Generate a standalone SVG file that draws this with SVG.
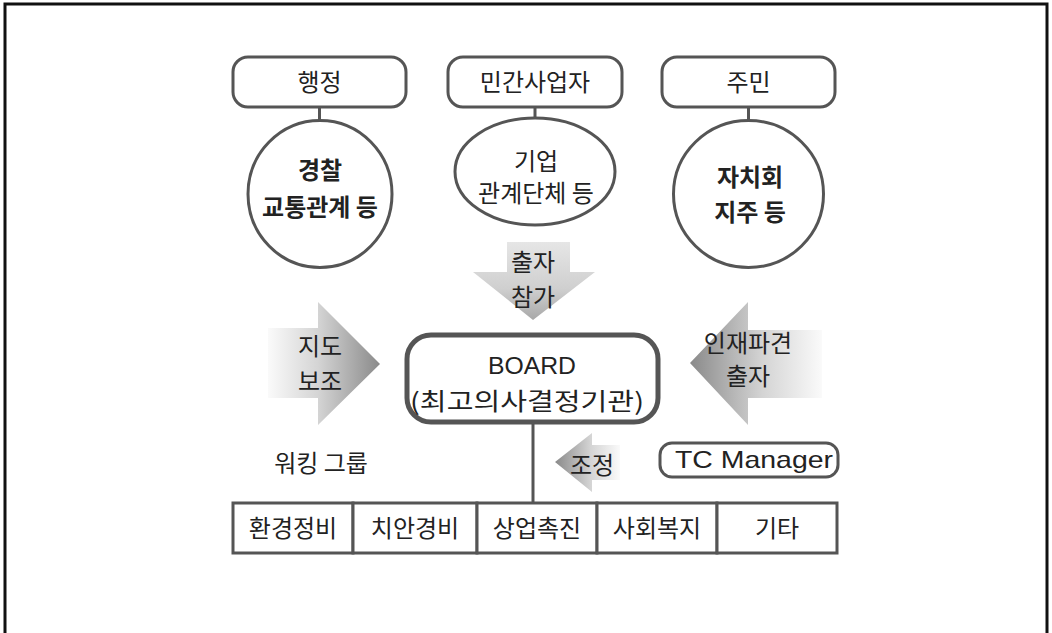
<svg xmlns="http://www.w3.org/2000/svg" width="1052" height="633" viewBox="0 0 1052 633">
<defs>
<style>
.box{fill:#fff;stroke:#555;stroke-width:3}
.board{fill:#fff;stroke:#555;stroke-width:5}
.cell{fill:#fff;stroke:#555;stroke-width:3}
.conn{stroke:#555;stroke-width:3;fill:none}
.t{font-family:"Noto Sans CJK KR","Liberation Sans",sans-serif;font-size:24px;fill:#222;text-anchor:middle}
.b{font-weight:bold}
.lat{font-family:"Liberation Sans","Noto Sans CJK KR",sans-serif;font-size:24px;fill:#222;text-anchor:middle}
</style>
<linearGradient id="gR" x1="0" y1="0" x2="1" y2="0">
<stop offset="0" stop-color="#fafafa"/><stop offset="0.45" stop-color="#d4d4d4"/><stop offset="1" stop-color="#8a8a8a"/>
</linearGradient>
<linearGradient id="gL" x1="1" y1="0" x2="0" y2="0">
<stop offset="0" stop-color="#fafafa"/><stop offset="0.45" stop-color="#d4d4d4"/><stop offset="1" stop-color="#8a8a8a"/>
</linearGradient>
<linearGradient id="gD" x1="0" y1="0" x2="0" y2="1">
<stop offset="0" stop-color="#e6e6e6"/><stop offset="0.6" stop-color="#cfcfcf"/><stop offset="1" stop-color="#a8a8a8"/>
</linearGradient>
</defs>
<rect x="0" y="0" width="1052" height="633" fill="#fff"/>
<rect x="5" y="4" width="1042" height="660" fill="none" stroke="#111" stroke-width="3"/>

<g id="connectors">
<line class="conn" x1="319.5" y1="107" x2="319.5" y2="121"/>
<line class="conn" x1="535" y1="107" x2="535" y2="119"/>
<line class="conn" x1="748.5" y1="107" x2="748.5" y2="121"/>
<line class="conn" x1="533" y1="422" x2="533" y2="503"/>
</g>

<g id="arrow-chulja">
<polygon points="507,242 570,242 570,272 595,272 533,320 473,272 507,272" fill="url(#gD)"/>
<text class="t" x="533" y="271">출자</text>
<text class="t" x="533" y="306">참가</text>
</g>
<g id="arrow-jido">
<polygon points="268,328 318,328 318,302 380,364 318,425 318,398 268,398" fill="url(#gR)"/>
<text class="t" x="320" y="355">지도</text>
<text class="t" x="320" y="390">보조</text>
</g>
<g id="arrow-injae">
<polygon points="822,330 748,330 748,302 690,363 748,425 748,398 822,398" fill="url(#gL)"/>
<text class="t" x="748" y="352">인재파견</text>
<text class="t" x="748" y="385">출자</text>
</g>
<g id="arrow-jojeong">
<polygon points="620,445 592,445 592,433 555,462 592,492 592,480 620,480" fill="url(#gL)"/>
<text class="t" x="592" y="474">조정</text>
</g>

<g id="node-haengjeong">
<rect class="box" x="233" y="57" width="173" height="50" rx="15"/>
<text class="t" x="319.5" y="91">행정</text>
</g>
<g id="node-mingan">
<rect class="box" x="448" y="57" width="174" height="50" rx="15"/>
<text class="t" x="535" y="91">민간사업자</text>
</g>
<g id="node-jumin">
<rect class="box" x="662" y="57" width="173" height="50" rx="15"/>
<text class="t" x="748.5" y="91">주민</text>
</g>

<g id="node-police">
<ellipse class="box" cx="320" cy="194" rx="72" ry="73.5"/>
<text class="t b" x="320" y="179">경찰</text>
<text class="t b" x="320" y="216">교통관계 등</text>
</g>
<g id="node-company">
<ellipse class="box" cx="535" cy="171.5" rx="80" ry="53.5"/>
<text class="t" x="536" y="170">기업</text>
<text class="t" x="536" y="202">관계단체 등</text>
</g>
<g id="node-council">
<ellipse class="box" cx="748.5" cy="194" rx="75" ry="73.5"/>
<text class="t b" x="750" y="186">자치회</text>
<text class="t b" x="750" y="221">지주 등</text>
</g>

<g id="node-board">
<rect class="board" x="407" y="335" width="251" height="87" rx="24"/>
<text class="lat" x="532" y="374" font-size="27" textLength="88" lengthAdjust="spacingAndGlyphs">BOARD</text>
<text class="t" x="527" y="410" textLength="234" lengthAdjust="spacingAndGlyphs">(최고의사결정기관)</text>
</g>

<g id="label-working">
<text class="t" x="321" y="472">워킹 그룹</text>
</g>

<g id="node-tc">
<rect class="box" x="660" y="443" width="178" height="34" rx="12"/>
<text class="lat" x="754" y="468" font-size="25" textLength="158" lengthAdjust="spacingAndGlyphs">TC Manager</text>
</g>

<g id="cell-1"><rect class="cell" x="233" y="503" width="120" height="50"/><text class="t" x="293" y="537">환경정비</text></g>
<g id="cell-2"><rect class="cell" x="353" y="503" width="124" height="50"/><text class="t" x="415" y="537">치안경비</text></g>
<g id="cell-3"><rect class="cell" x="477" y="503" width="120" height="50"/><text class="t" x="537" y="537">상업촉진</text></g>
<g id="cell-4"><rect class="cell" x="597" y="503" width="120" height="50"/><text class="t" x="657" y="537">사회복지</text></g>
<g id="cell-5"><rect class="cell" x="717" y="503" width="120" height="50"/><text class="t" x="777" y="537">기타</text></g>
</svg>
